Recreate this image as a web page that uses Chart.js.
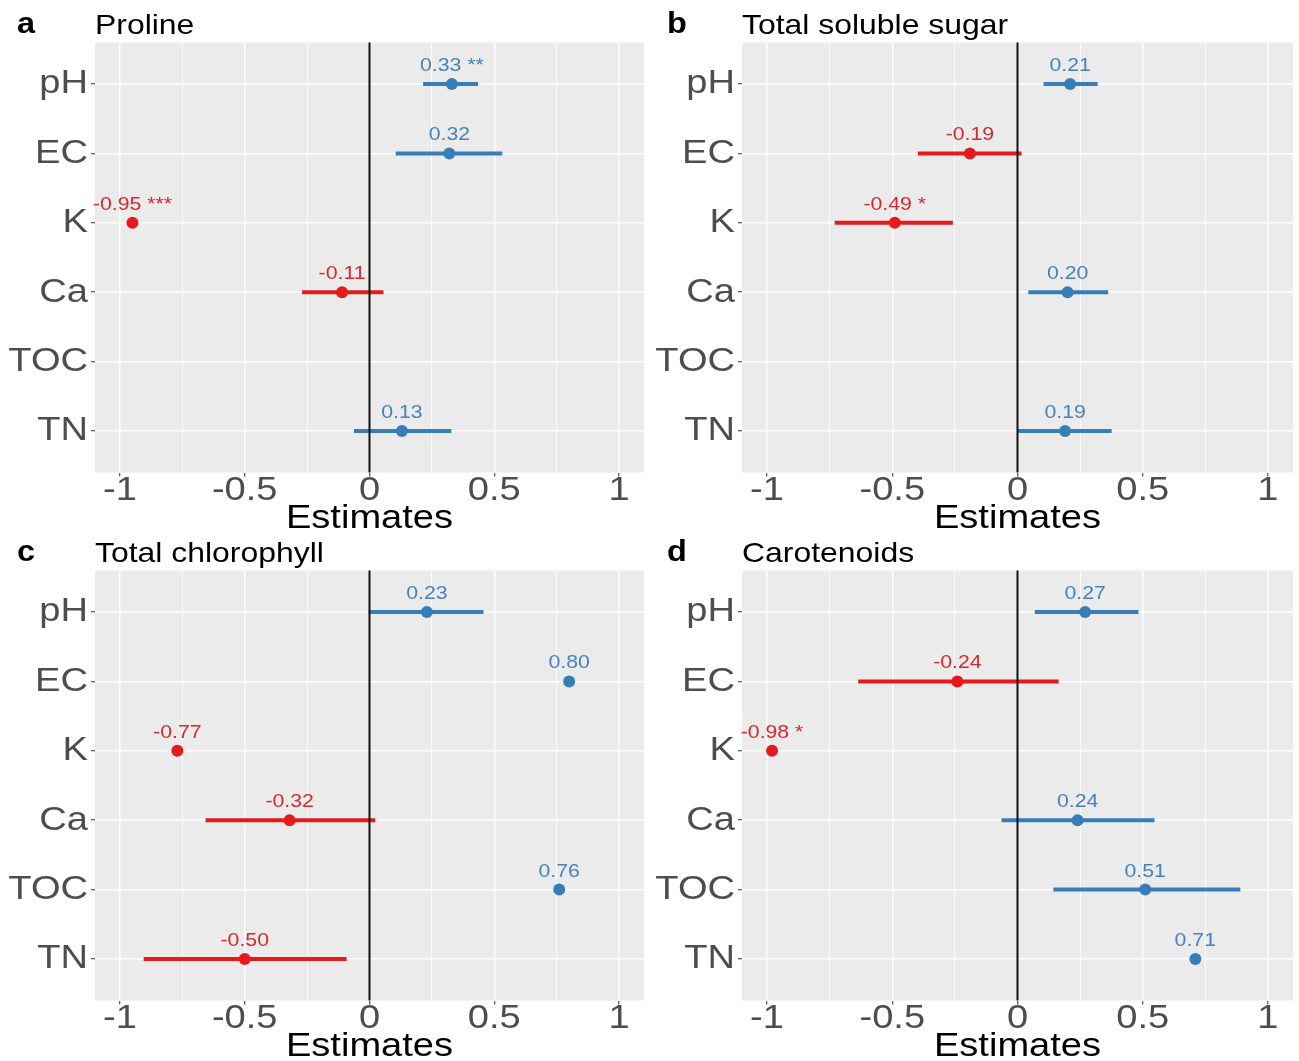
<!DOCTYPE html>
<html><head><meta charset="utf-8">
<script src="https://cdn.jsdelivr.net/npm/chart.js@4.4.1/dist/chart.umd.min.js"></script>
<style>
html,body{margin:0;padding:0;background:#fff;}
#wrap{position:relative;width:1299px;height:1061px;overflow:hidden;background:#fff;}
canvas{position:absolute;}
</style></head><body>
<div id="wrap">
<canvas id="pa" width="650" height="531" style="left:0px;top:0px"></canvas>
<canvas id="pb" width="649" height="531" style="left:650px;top:0px"></canvas>
<canvas id="pc" width="650" height="531" style="left:0px;top:528px"></canvas>
<canvas id="pd" width="649" height="531" style="left:650px;top:528px"></canvas>
</div>
<script>
// ---------- data ----------
const categories = ['pH', 'EC', 'K', 'Ca', 'TOC', 'TN'];
const xTickValues = [-1, -0.5, 0, 0.5, 1];
const xTickLabels = ['-1', '-0.5', '0', '0.5', '1'];
const xMinorValues = [-0.75, -0.25, 0.25, 0.75];
const axisTitle = 'Estimates';

const panelLetters = ['a', 'b', 'c', 'd'];
const panelTitles = ['Proline', 'Total soluble sugar', 'Total chlorophyll', 'Carotenoids'];

const prolineEst  = [0.33, 0.32, -0.95, -0.11, null, 0.13];
const prolineLow  = [0.215, 0.105, null, -0.27, null, -0.062];
const prolineHigh = [0.435, 0.532, null, 0.056, null, 0.328];
const prolineSig  = ['**', '', '***', '', '', ''];

const sugarEst  = [0.21, -0.19, -0.49, 0.20, null, 0.19];
const sugarLow  = [0.104, -0.398, -0.73, 0.043, null, 0.0];
const sugarHigh = [0.32, 0.016, -0.258, 0.362, null, 0.376];
const sugarSig  = ['', '', '*', '', '', ''];

const chloroEst  = [0.23, 0.80, -0.77, -0.32, 0.76, -0.50];
const chloroLow  = [-0.003, null, null, -0.657, null, -0.905];
const chloroHigh = [0.457, null, null, 0.023, null, -0.092];
const chloroSig  = ['', '', '', '', '', ''];

const caroEst  = [0.27, -0.24, -0.98, 0.24, 0.51, 0.71];
const caroLow  = [0.069, -0.636, null, -0.064, 0.143, null];
const caroHigh = [0.483, 0.164, null, 0.547, 0.89, null];
const caroSig  = ['', '', '*', '', '', ''];

// ---------- style ----------
const FONT = '"Liberation Sans", Arial, Helvetica, sans-serif';
const STRETCH = 1.12;
const BLUE = '#377eb8', RED = '#e41a1c';
const BLUE_TXT = '#4682bd', RED_TXT = '#d42a2c';

const panels = [
  {id: 'pa', est: prolineEst, low: prolineLow, high: prolineHigh, sig: prolineSig, plotLeft: 95, plotRight: 649},
  {id: 'pb', est: sugarEst,   low: sugarLow,   high: sugarHigh,   sig: sugarSig,   plotLeft: 92, plotRight: 649},
  {id: 'pc', est: chloroEst,  low: chloroLow,  high: chloroHigh,  sig: chloroSig,  plotLeft: 95, plotRight: 649},
  {id: 'pd', est: caroEst,    low: caroLow,    high: caroHigh,    sig: caroSig,    plotLeft: 92, plotRight: 649}
];
const PLOT_TOP = 42.5, PLOT_BOTTOM = 472.5;

function isMajor(v) { return xTickValues.some(t => Math.abs(t - v) < 1e-9); }

const bgPlugin = {
  id: 'ggbg',
  beforeDraw(chart) {
    const {ctx, chartArea: a} = chart;
    ctx.save();
    ctx.fillStyle = '#ebebeb';
    ctx.fillRect(a.left, a.top, a.right - a.left, a.bottom - a.top);
    ctx.restore();
  }
};

function makeOverlay(p, idx) {
  return {
    id: 'overlay' + idx,
    afterDatasetsDraw(chart) {
      const {ctx, chartArea: a, scales} = chart;
      const x0 = scales.x.getPixelForValue(0);
      ctx.save();
      ctx.strokeStyle = '#111';
      ctx.lineWidth = 2;
      ctx.beginPath();
      ctx.moveTo(x0, a.top);
      ctx.lineTo(x0, a.bottom);
      ctx.stroke();
      // value labels
      ctx.font = '19px ' + FONT;
      ctx.textAlign = 'center';
      ctx.textBaseline = 'alphabetic';
      p.est.forEach((v, i) => {
        if (v === null) return;
        const px = scales.x.getPixelForValue(v);
        const py = scales.y.getPixelForValue(i);
        ctx.fillStyle = v >= 0 ? BLUE_TXT : RED_TXT;
        const txt = v.toFixed(2) + (p.sig[i] ? ' ' + p.sig[i] : '');
        ctx.fillText(txt, px, py - 13);
      });
      ctx.restore();
    },
    afterDraw(chart) {
      const {ctx, chartArea: a} = chart;
      ctx.save();
      ctx.fillStyle = '#000';
      ctx.textBaseline = 'alphabetic';
      ctx.textAlign = 'left';
      ctx.font = 'bold 29px ' + FONT;
      ctx.fillText(panelLetters[idx], 17, 33);
      ctx.font = '28.5px ' + FONT;
      ctx.fillText(panelTitles[idx], a.left, 34);
      ctx.restore();
    }
  };
}

function stretchText(ctx) {
  const orig = ctx.fillText.bind(ctx);
  ctx.fillText = function (t, x, y) {
    ctx.save();
    ctx.translate(x, y);
    ctx.scale(STRETCH, 1);
    orig(t, 0, 0);
    ctx.restore();
  };
}

panels.forEach((p, idx) => {
  const canvas = document.getElementById(p.id);
  const ctx = canvas.getContext('2d');
  stretchText(ctx);
  const W = canvas.width, H = canvas.height;

  const datasets = [];
  p.est.forEach((v, i) => {
    if (p.low[i] === null || p.high[i] === null) return;
    datasets.push({
      data: [{x: p.low[i], y: i}, {x: p.high[i], y: i}],
      showLine: true,
      borderColor: v >= 0 ? BLUE : RED,
      borderWidth: 4,
      borderCapStyle: 'butt',
      pointRadius: 0,
      pointHoverRadius: 0
    });
  });
  const pts = [], cols = [];
  p.est.forEach((v, i) => {
    if (v === null) return;
    pts.push({x: v, y: i});
    cols.push(v >= 0 ? BLUE : RED);
  });
  datasets.push({
    data: pts,
    pointRadius: 6,
    pointBorderWidth: 0,
    pointBackgroundColor: cols,
    pointBorderColor: cols
  });

  new Chart(ctx, {
    type: 'scatter',
    data: {datasets},
    options: {
      responsive: false,
      animation: false,
      devicePixelRatio: 1,
      layout: {padding: {top: PLOT_TOP, left: 0, right: W - p.plotRight, bottom: 0}},
      plugins: {legend: {display: false}, tooltip: {enabled: false}},
      scales: {
        x: {
          type: 'linear',
          min: -1.1, max: 1.1,
          afterBuildTicks: s => {
            s.ticks = xTickValues.concat(xMinorValues).sort((a, b) => a - b).map(v => ({value: v}));
          },
          afterFit: s => { s.height = H - PLOT_BOTTOM; },
          border: {display: false},
          grid: {
            color: '#ffffff',
            lineWidth: c => (c.tick && isMajor(c.tick.value)) ? 1.5 : 0.8,
            drawTicks: true,
            tickLength: 4,
            tickWidth: 1,
            tickColor: c => (c.tick && isMajor(c.tick.value)) ? '#333333' : 'rgba(0,0,0,0)'
          },
          ticks: {
            autoSkip: false, maxRotation: 0, padding: -6,
            color: '#4d4d4d',
            font: {family: FONT, size: 34},
            callback: v => { const k = xTickValues.findIndex(t => Math.abs(t - v) < 1e-9); return k >= 0 ? xTickLabels[k] : ''; }
          },
          title: {
            display: true, text: axisTitle, color: '#000',
            font: {family: FONT, size: 34, lineHeight: 0.7},
            padding: {top: 0, bottom: 0}
          }
        },
        y: {
          type: 'linear',
          reverse: true,
          min: -0.6, max: 5.6,
          afterBuildTicks: s => { s.ticks = categories.map((c, i) => ({value: i})); },
          afterFit: s => { s.width = p.plotLeft; },
          border: {display: false},
          grid: {
            color: '#ffffff', lineWidth: 1.5,
            drawTicks: true, tickLength: 4, tickWidth: 1, tickColor: '#333333'
          },
          ticks: {
            autoSkip: false, padding: 3,
            color: '#4d4d4d',
            font: {family: FONT, size: 34},
            callback: v => categories[v] !== undefined ? categories[v] : ''
          }
        }
      }
    },
    plugins: [bgPlugin, makeOverlay(p, idx)]
  });
});
</script>
</body></html>
